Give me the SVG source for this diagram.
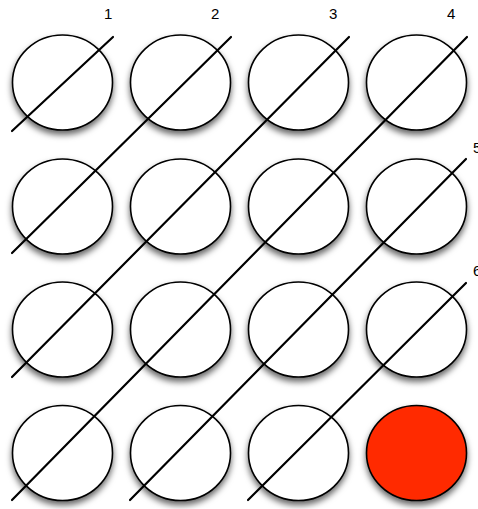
<svg xmlns="http://www.w3.org/2000/svg" width="478" height="509" viewBox="0 0 478 509">
<style>
.c{fill:#ffffff;stroke:#000000;stroke-width:1.6;filter:url(#sh)}
.red{fill:#ff2a00}
.ln{stroke:#000000;stroke-width:2.2;stroke-linecap:round;fill:none}
.lbl{font-family:"Liberation Sans",Arial,sans-serif;font-size:15px;fill:#000000}
</style>
<defs>
<filter id="sh" x="-30%" y="-30%" width="160%" height="170%">
<feDropShadow dx="0" dy="4" stdDeviation="3.2" flood-color="#000000" flood-opacity="0.6"/>
</filter>
</defs>
<g id="nodes">
<g id="n11"><ellipse class="c" cx="62.5" cy="82.5" rx="50" ry="47.5"/></g>
<g id="n12"><ellipse class="c" cx="180.5" cy="82.5" rx="50" ry="47.5"/></g>
<g id="n13"><ellipse class="c" cx="298.5" cy="82.5" rx="50" ry="47.5"/></g>
<g id="n14"><ellipse class="c" cx="416.5" cy="82.5" rx="50" ry="47.5"/></g>
<g id="n21"><ellipse class="c" cx="62.5" cy="206.5" rx="50" ry="47.5"/></g>
<g id="n22"><ellipse class="c" cx="180.5" cy="206.5" rx="50" ry="47.5"/></g>
<g id="n23"><ellipse class="c" cx="298.5" cy="206.5" rx="50" ry="47.5"/></g>
<g id="n24"><ellipse class="c" cx="416.5" cy="206.5" rx="50" ry="47.5"/></g>
<g id="n31"><ellipse class="c" cx="62.5" cy="329.5" rx="50" ry="47.5"/></g>
<g id="n32"><ellipse class="c" cx="180.5" cy="329.5" rx="50" ry="47.5"/></g>
<g id="n33"><ellipse class="c" cx="298.5" cy="329.5" rx="50" ry="47.5"/></g>
<g id="n34"><ellipse class="c" cx="416.5" cy="329.5" rx="50" ry="47.5"/></g>
<g id="n41"><ellipse class="c" cx="62.5" cy="453" rx="50" ry="47.5"/></g>
<g id="n42"><ellipse class="c" cx="180.5" cy="453" rx="50" ry="47.5"/></g>
<g id="n43"><ellipse class="c" cx="298.5" cy="453" rx="50" ry="47.5"/></g>
<g id="n44"><ellipse class="c red" cx="416.5" cy="453" rx="50" ry="47.5"/></g>
</g>
<g id="connectors">
<line class="ln" x1="12" y1="131" x2="113" y2="37"/>
<line class="ln" x1="12" y1="253" x2="231" y2="37"/>
<line class="ln" x1="12" y1="377" x2="349" y2="37"/>
<line class="ln" x1="12" y1="500" x2="467" y2="37"/>
<line class="ln" x1="130" y1="500" x2="466" y2="159"/>
<line class="ln" x1="248" y1="500" x2="466" y2="283"/>
</g>
<g id="labels">
<text class="lbl" x="104" y="19">1</text>
<text class="lbl" x="211" y="19">2</text>
<text class="lbl" x="329" y="19">3</text>
<text class="lbl" x="447" y="19">4</text>
<text class="lbl" x="473" y="153">5</text>
<text class="lbl" x="473" y="276">6</text>
</g>
</svg>
